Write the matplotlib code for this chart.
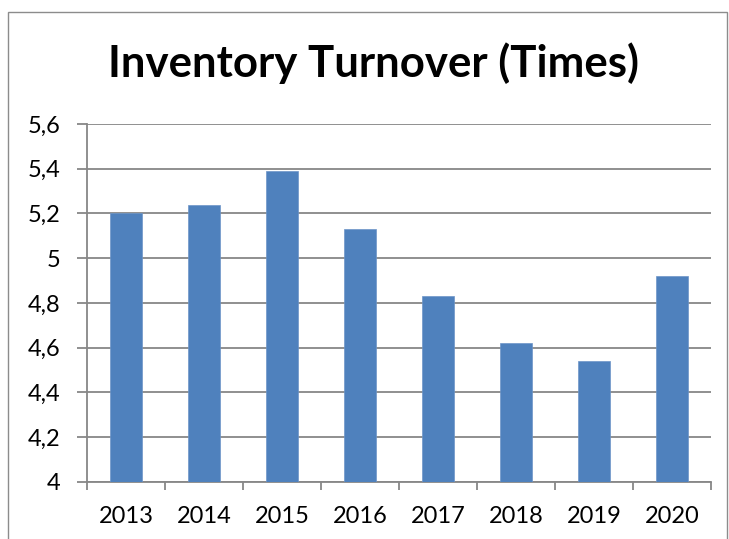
import matplotlib
matplotlib.use("Agg")
import matplotlib.pyplot as plt
from matplotlib.patches import Rectangle
from matplotlib.ticker import FixedLocator, FuncFormatter
import numpy as np

years = ["2013", "2014", "2015", "2016", "2017", "2018", "2019", "2020"]
turnover = [5.20, 5.24, 5.39, 5.13, 4.83, 4.62, 4.54, 4.92]
y_ticks = [4.0, 4.2, 4.4, 4.6, 4.8, 5.0, 5.2, 5.4, 5.6]
title = "Inventory Turnover (Times)"

W, H = 729, 539
fig = plt.figure(figsize=(W / 100, H / 100), dpi=100)
fig.patch.set_facecolor("white")

# outer chart border
fig.patches.append(Rectangle((8 / W, -0.05), (727 - 8) / W, 1 - 12 / H + 0.05,
                             transform=fig.transFigure, fill=False,
                             edgecolor="#8c8c8c", linewidth=1.0))

ax = fig.add_axes([87 / W, 1 - 482 / H, (711 - 87) / W, (482 - 124) / H])
x = np.arange(len(years))
ax.bar(x, turnover, width=0.4, color="#4F81BD", edgecolor="#6d95c8", linewidth=0.5, zorder=3)

ax.set_ylim(4.0, 5.6)
ax.set_xlim(-0.5, len(years) - 0.5)
ax.yaxis.set_major_locator(FixedLocator(y_ticks))
ax.yaxis.set_major_formatter(FuncFormatter(lambda v, p: ("%g" % round(v, 1)).replace(".", ",")))
ax.grid(axis="y", color="#878787", linewidth=1.3, zorder=0)

ax.set_xticks(x)
ax.set_xticklabels(years)
ax.xaxis.set_minor_locator(FixedLocator(np.arange(-0.5, len(years), 1.0)))
ax.tick_params(axis="x", which="major", length=0, pad=17.5, labelsize=17)
ax.tick_params(axis="x", which="minor", length=6, width=1.3, color="#878787", direction="out")
ax.tick_params(axis="y", length=7, width=1.3, color="#878787", pad=12, labelsize=17)
for lab in ax.get_xticklabels() + ax.get_yticklabels():
    lab.set_fontfamily("Lato")

for s in ["top", "right"]:
    ax.spines[s].set_visible(False)
for s in ["left", "bottom"]:
    ax.spines[s].set_color("#878787")
    ax.spines[s].set_linewidth(1.3)

fig.text(374 / W, 1 - 77 / H, title, ha="center", va="baseline",
         fontsize=31.5, fontweight="bold", family="Lato", color="black")

fig.savefig("out.png", dpi=100)
